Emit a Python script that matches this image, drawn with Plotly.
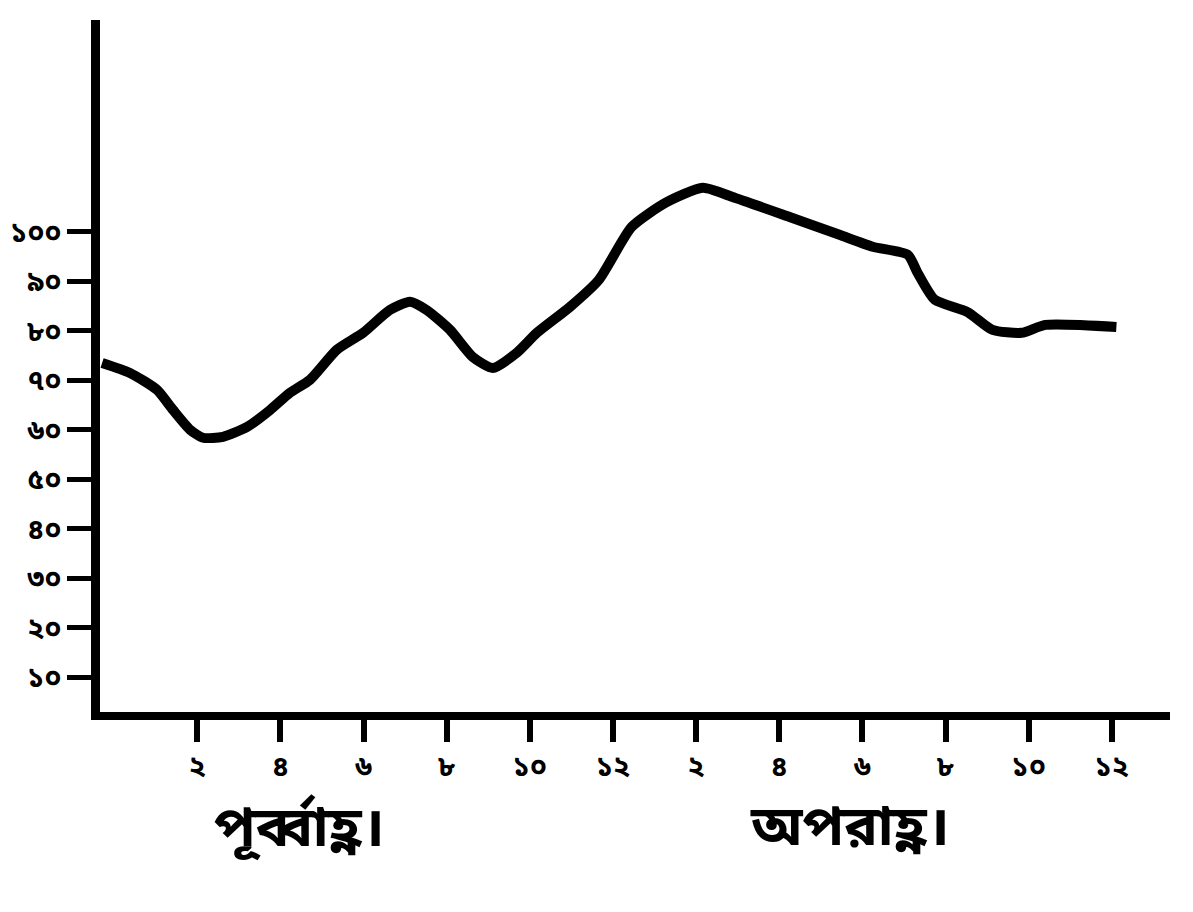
import plotly.graph_objects as go

# hours from midnight (x) and reading (y)
hours = [-0.29, 0.38, 1.03, 1.42, 1.83, 2.14, 2.62, 3.20, 3.75, 4.23, 4.71, 5.36, 5.99,
         6.63, 7.12, 7.52, 8.08, 8.63, 9.11, 9.69, 10.17, 10.96, 11.66, 12.45, 13.27,
         14.16, 14.86, 16.25, 17.45, 18.25, 19.09, 19.33, 19.74, 20.53, 21.13, 21.83,
         22.40, 24.11]
values = [73.5, 71.5, 68.1, 64.0, 60.0, 58.4, 58.6, 60.6, 64.0, 67.5, 70.1, 76.2, 79.6,
          84.2, 85.9, 84.2, 80.2, 74.7, 72.5, 75.6, 79.6, 84.8, 90.3, 101.0, 105.9,
          108.9, 107.1, 103.0, 99.4, 97.0, 95.4, 91.7, 86.3, 83.8, 80.2, 79.6,
          81.2, 80.8]

x_tick_vals = [2, 4, 6, 8, 10, 12, 14, 16, 18, 20, 22, 24]
x_tick_text = ["২", "৪", "৬", "৮", "১০", "১২", "২", "৪", "৬", "৮", "১০", "১২"]
y_tick_vals = [10, 20, 30, 40, 50, 60, 70, 80, 90, 100]
y_tick_text = ["১০", "২০", "৩০", "৪০", "৫০", "৬০", "৭০", "৮০", "৯০", "১০০"]
period_labels = ["পূর্ব্বাহ্ণ।", "অপরাহ্ণ।"]
period_pos = [4.47, 17.7]

FONT = "Noto Sans Bengali, Noto Serif Bengali, Lohit Bengali, FreeSerif, Noto Sans, sans-serif"

fig = go.Figure()
fig.add_trace(go.Scatter(
    x=hours, y=values, mode="lines",
    line=dict(color="black", width=10, shape="spline", smoothing=0.6),
    showlegend=False, hoverinfo="skip",
))

fig.update_layout(
    width=1193, height=912,
    paper_bgcolor="white", plot_bgcolor="white",
    margin=dict(l=92, r=31, t=12, b=208, autoexpand=False),
    font=dict(family=FONT, color="black"),
    xaxis=dict(
        range=[-0.34, 25.4], showgrid=False, zeroline=False, automargin=False,
        showline=True, linecolor="black", linewidth=8,
        tickmode="array", tickvals=x_tick_vals, ticktext=x_tick_text,
        ticks="outside", ticklen=22, tickwidth=6, tickcolor="black",
        tickfont=dict(size=28, family=FONT, color="black", weight="bold"),
    ),
    yaxis=dict(
        range=[3.0, 142.8], showgrid=False, zeroline=False, automargin=False,
        showline=True, linecolor="black", linewidth=9,
        tickmode="array", tickvals=y_tick_vals, ticktext=y_tick_text,
        ticks="outside", ticklen=24, tickwidth=5, tickcolor="black",
        tickfont=dict(size=28, family=FONT, color="black", weight="bold"),
    ),
)

for lbl, pos in zip(period_labels, period_pos):
    fig.add_annotation(
        x=pos, y=-0.172, xref="x", yref="paper", text=lbl, showarrow=False,
        font=dict(size=56, family=FONT, color="black", weight="bold"),
        xanchor="center", yanchor="middle",
    )

fig.write_html("out.html")
